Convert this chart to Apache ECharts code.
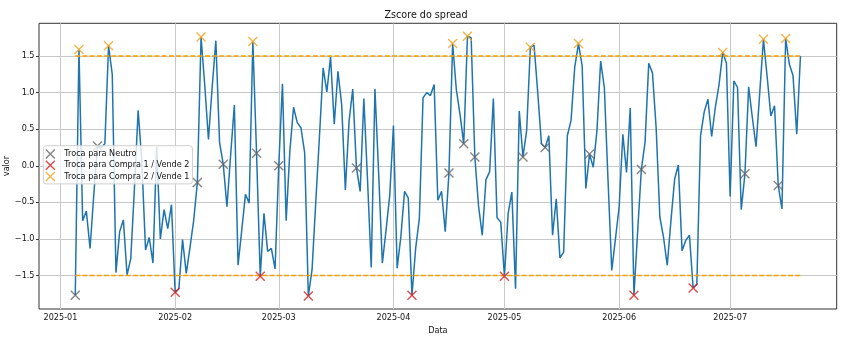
<!DOCTYPE html>
<html>
<head>
<meta charset="utf-8">
<script src="https://cdn.jsdelivr.net/npm/echarts@6/dist/echarts.min.js"></script>
<style>
  html, body { margin: 0; padding: 0; background: #fff; }
  #chart { width: 852px; height: 342px; }
</style>
</head>
<body>
<div id="chart"></div>
<script>
// Daily z-score of the spread, starting on this date
const startDate = '2025-01-05';

const zscore = [
  -1.77, 1.59, -0.75, -0.62, -1.13, -0.40, 0.27, 0.25, 0.30, 1.64,
  1.25, -1.46, -0.90, -0.74, -1.49, -1.27, -0.30, 0.76, 0.05, -1.15,
  -0.98, -1.33, 0.26, -1.00, -0.60, -0.86, -0.53, -1.73, -1.68, -1.01,
  -1.47, -1.12, -0.75, -0.23, 1.76, 1.10, 0.36, 1.07, 1.71, 0.32,
  0.02, -0.56, 0.15, 0.83, -1.36, -0.88, -0.39, -0.51, 1.70, 0.17,
  -1.51, -0.65, -1.17, -1.13, -1.41, 0.00, 1.12, -0.75, 0.20, 0.80,
  0.59, 0.52, 0.18, -1.78, -1.42, -0.50, 0.40, 1.34, 1.01, 1.49,
  0.57, 1.29, 0.84, -0.33, 0.61, 1.05, -0.03, -0.35, 0.92, -0.20,
  -1.39, 1.05, -0.10, -1.33, -0.88, -0.40, 0.55, -1.40, -0.97, -0.35,
  -0.44, -1.77, -1.13, -0.72, 0.93, 1.00, 0.96, 1.11, -0.47, -0.35,
  -0.90, -0.10, 1.67, 1.04, 0.70, 0.30, 1.77, 1.75, 0.12, -0.55,
  -0.95, -0.19, -0.08, 0.92, -0.71, -0.77, -1.51, -0.65, -0.36, -1.68,
  0.75, 0.12, 0.48, 1.62, 1.65, 1.00, 0.30, 0.25, 0.41, -0.95,
  -0.45, -1.26, -1.18, 0.41, 0.62, 1.35, 1.67, 1.37, -0.31, 0.16,
  -0.02, 0.48, 1.43, 1.07, -0.20, -1.43, -1.00, -0.56, 0.43, -0.09,
  0.79, -1.77, -0.90, -0.05, 0.32, 1.40, 1.27, 0.52, -0.70, -0.98,
  -1.36, -0.75, -0.18, 0.01, -1.16, -1.02, -0.95, -1.67, -1.62, 0.41,
  0.74, 0.91, 0.40, 0.80, 1.11, 1.55, 1.40, -0.42, 1.16, 1.07,
  -0.60, -0.11, 1.08, 0.66, 0.26, 1.00, 1.73, 1.22, 0.68, 0.82,
  -0.27, -0.59, 1.74, 1.39, 1.23, 0.43, 1.50
];

// Positions (day index) where the signal changes
const neutroIdx  = [0, 6, 33, 40, 49, 55, 76, 101, 105, 108, 121, 127, 139, 153, 181, 190];
const compra1Idx = [27, 50, 63, 91, 116, 151, 167];
const compra2Idx = [1, 9, 34, 48, 102, 106, 123, 136, 175, 186, 192];

// Entry thresholds
const upperLevel = 1.5;
const lowerLevel = -1.5;

// Axis ticks
const monthTicks = ['2025-01-01', '2025-02-01', '2025-03-01', '2025-04-01', '2025-05-01', '2025-06-01', '2025-07-01'];
const yTicks = [-1.5, -1.0, -0.5, 0.0, 0.5, 1.0, 1.5];

const legendNames = ['Troca para Neutro', 'Troca para Compra 1 / Vende 2', 'Troca para Compra 2 / Vende 1'];

const DAY = 86400000;
const toTime = s => Date.parse(s + 'T00:00:00Z');
const t0 = toTime(startDate);
const dates = zscore.map((_, i) => t0 + i * DAY);
const series = dates.map((d, i) => [d, zscore[i]]);
const pick = idx => idx.map(i => [dates[i], zscore[i]]);
const monthTimes = monthTicks.map(toTime);

// 5% padding around the data, both axes
const tFirst = dates[0], tLast = dates[dates.length - 1];
const tPad = (tLast - tFirst) * 0.05;
const vMin = Math.min(...zscore), vMax = Math.max(...zscore);
const vPad = (vMax - vMin) * 0.05;

const FONT = 'DejaVu Sans';
const TXT = '#111';
const GRID = '#c8c8c8';
const THRESH = '#f5a000';
const XMARK = 'path://M0,1 L1,0 L5,4 L9,0 L10,1 L6,5 L10,9 L9,10 L5,6 L1,10 L0,9 L4,5 Z';
const fmtNum = v => (v < 0 ? '\u2212' : '') + Math.abs(v).toFixed(1);
const fmtMonth = v => { const d = new Date(v); return d.getUTCFullYear() + '-' + String(d.getUTCMonth() + 1).padStart(2, '0'); };

const markerSeries = (name, data, color) => ({
  name, type: 'scatter', data,
  symbol: XMARK, symbolSize: 10, symbolKeepAspect: true,
  itemStyle: { color }, z: 6, silent: true
});

const chart = echarts.init(document.getElementById('chart'), null, { renderer: 'canvas' });
chart.setOption({
  animation: false,
  backgroundColor: '#ffffff',
  textStyle: { fontFamily: FONT },
  title: {
    text: 'Zscore do spread', left: 'center', top: 10, padding: 0,
    textStyle: { fontFamily: FONT, fontSize: 9.6, fontWeight: 'normal', color: TXT }
  },
  grid: {
    left: 39, right: 15.3, top: 23.3, bottom: 33,
    outerBoundsMode: 'none', containLabel: false,
    show: true, borderColor: '#333', borderWidth: 1, backgroundColor: 'transparent'
  },
  legend: {
    orient: 'vertical', left: 43.3, top: 145.7, z: 10,
    padding: [3.3, 3, 2.3, 2],
    itemWidth: 18, itemHeight: 10, itemGap: 1.3,
    backgroundColor: 'rgba(255,255,255,0.8)', borderColor: '#d0d0d0', borderWidth: 1, borderRadius: 3,
    textStyle: { fontFamily: FONT, fontSize: 8.1, color: TXT },
    data: legendNames.map(n => ({ name: n, icon: XMARK })),
    selectedMode: false
  },
  graphic: [{
    type: 'text', x: 7, y: 166, rotation: Math.PI / 2, silent: true,
    style: { text: 'valor', fontFamily: FONT, fontSize: 8.1, fill: TXT, align: 'center', verticalAlign: 'middle' }
  }],
  xAxis: {
    type: 'value', min: tFirst - tPad, max: tLast + tPad,
    name: 'Data', nameLocation: 'middle', nameGap: 16,
    nameTextStyle: { fontFamily: FONT, fontSize: 8.1, color: TXT },
    axisLine: { show: false },
    axisTick: { show: true, length: 3, customValues: monthTimes, lineStyle: { color: '#333' } },
    axisLabel: { customValues: monthTimes, formatter: fmtMonth, fontFamily: FONT, fontSize: 8.1, color: TXT, margin: 4.5 },
    splitLine: { show: false }
  },
  yAxis: {
    type: 'value', min: vMin - vPad, max: vMax + vPad,
    axisLine: { show: false },
    axisTick: { show: true, length: 3, customValues: yTicks, lineStyle: { color: '#333' } },
    axisLabel: { customValues: yTicks, formatter: fmtNum, fontFamily: FONT, fontSize: 8.1, color: TXT, margin: 4.5 },
    splitLine: { show: false }
  },
  series: [
    {
      // grid lines at the labelled ticks, kept underneath everything else
      name: 'gridlines', type: 'line', data: [], z: 1, silent: true,
      markLine: {
        z: 1, silent: true, symbol: 'none', animation: false, label: { show: false },
        emphasis: { disabled: true },
        lineStyle: { color: GRID, width: 1, type: 'solid' },
        data: monthTimes.map(t => ({ xAxis: t })).concat(yTicks.map(v => ({ yAxis: v })))
      }
    },
    {
      name: 'zscore', type: 'line', data: series, showSymbol: false, symbol: 'none',
      lineStyle: { color: '#1f74ad', width: 1.5 }, z: 3, silent: true
    },
    {
      name: 'upper', type: 'line', data: [[tFirst, upperLevel], [tLast, upperLevel]], symbol: 'none',
      lineStyle: { color: THRESH, width: 1.4, type: [5, 2.2] }, z: 4, silent: true
    },
    {
      name: 'lower', type: 'line', data: [[tFirst, lowerLevel], [tLast, lowerLevel]], symbol: 'none',
      lineStyle: { color: THRESH, width: 1.4, type: [5, 2.2] }, z: 4, silent: true
    },
    markerSeries(legendNames[0], pick(neutroIdx), '#666666'),
    markerSeries(legendNames[1], pick(compra1Idx), '#d42020'),
    markerSeries(legendNames[2], pick(compra2Idx), '#f0a31a')
  ]
});
</script>
</body>
</html>
